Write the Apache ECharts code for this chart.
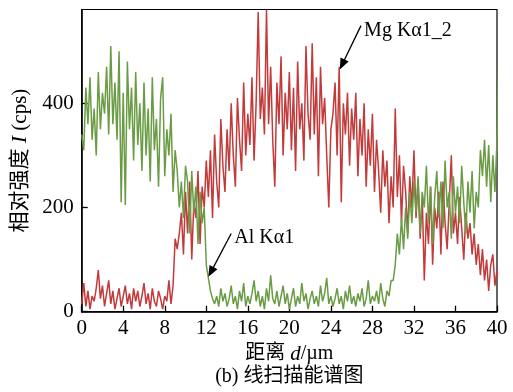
<!DOCTYPE html>
<html>
<head>
<meta charset="utf-8">
<script src="https://cdn.jsdelivr.net/npm/echarts@6/dist/echarts.min.js"></script>
<style>
html,body{margin:0;padding:0;background:#fff;}
#chart{width:513px;height:392px;}
</style>
</head>
<body>
<div id="chart"></div>
<script>
// sampling step along the scan line (µm)
const STEP_UM = 0.2;
const xTicks = [0, 4, 8, 12, 16, 20, 24, 28, 32, 36, 40];
const yTicks = [0, 200, 400];

// Al Kα1 counts (cps), one value per 0.2 µm
const alKa1 = [
  340, 310, 430, 360, 450, 330, 390, 300, 460, 350, 420,
  380, 470, 340, 510, 360, 440, 330, 500, 210, 420,
  205, 480, 350, 430, 290, 460, 320, 400, 270, 440,
  300, 390, 250, 450, 310, 370, 240, 410, 450, 260,
  350, 300, 380, 230, 310, 270, 200, 250, 180, 280,
  250, 150, 270, 190, 240, 130, 230, 170, 200, 90,
  65, 40, 25, 15, 30, 10, 45, 20, 35, 10,
  25, 50, 15, 30, 5, 40, 20, 55, 10, 30,
  15, 35, 60, 20, 40, 10, 30, 5, 45, 20,
  70, 25, 15, 40, 10, 30, 50, 15, 35, 5,
  25, 45, 10, 30, 15, 55, 20, 35, 5, 25,
  40, 15, 30, 10, 50, 20, 35, 65, 15, 30,
  10, 25, 45, 15, 30, 5, 40, 20, 50, 15,
  30, 10, 35, 20, 45, 10, 25, 60, 15, 30,
  20, 40, 15, 55, 25, 10, 40, 30, 60, 60,
  90, 150, 110, 180, 120, 200, 140, 230, 170, 250,
  190, 260, 150, 230, 200, 280, 170, 240, 130, 220,
  270, 180, 250, 160, 290, 200, 230, 140, 260, 190,
  240, 170, 280, 210, 150, 250, 190, 270, 160, 230,
  200, 310, 260, 330, 240, 320, 210, 300, 230, 330,
  510
];

// Mg Kα1_2 counts (cps), one value per 0.2 µm
const mgKa12 = [
  15, 55, 10, 40, 5, 30, 20, 45, 80, 25, 50,
  10, 35, 60, 15, 40, 5, 25, 45, 10, 30,
  50, 15, 35, 5, 45, 20, 40, 10, 30, 55,
  15, 35, 5, 45, 20, 10, 40, 25, 5, 30,
  20, 60, 15, 50, 140, 120, 150, 190, 110, 230,
  150, 250, 100, 210, 180, 270, 130, 240, 200, 290,
  220, 310, 180, 340, 250, 200, 370, 280, 230, 350,
  270, 400, 300, 240, 410, 330, 270, 440, 300, 380,
  320, 450, 290, 400, 575, 370, 430, 340, 580, 360,
  470, 330, 240, 440, 360, 490, 300, 420, 350, 460,
  310, 430, 270, 480, 350, 400, 290, 510, 380, 330,
  515, 340, 450, 260, 470, 360, 410, 300, 200, 350,
  380, 440, 300, 470, 210, 400, 340, 420, 280, 390,
  330, 420, 260, 370, 300, 400, 240, 350, 280, 380,
  230, 330, 270, 190, 310, 240, 290, 170, 260, 200,
  390, 220, 300, 170, 280, 230, 150, 260, 200, 310,
  180, 250, 140, 220, 60, 190, 130, 240, 90, 200,
  160, 230, 110, 250, 170, 120, 210, 300, 150, 190,
  130, 220, 160, 100, 190, 140, 170, 110, 150, 90,
  130, 70, 120, 60, 100, 40, 90, 110, 50, 80,
  60
];

const labelAl = 'Al Kα1';
const labelMg = 'Mg Kα1_2';
// annotation anchors in data coordinates: [text-left, arrow start, arrow tip]
const annMg = { text: [27.2, 540], from: [26.9, 549], to: [24.86, 465] };
const annAl = { text: [14.7, 142], from: [14.4, 150], to: [12.2, 67] };

const FONT = "'Liberation Serif', 'Times New Roman', 'Noto Sans CJK SC', serif";
const GREEN = '#6a9c45';
const RED = '#c23a3a';

function pairs(arr) { return arr.map((v, i) => [Math.round(i * STEP_UM * 10) / 10, v]); }

const chart = echarts.init(document.getElementById('chart'), null, { renderer: 'canvas' });
chart.setOption({
  animation: false,
  backgroundColor: '#fff',
  grid: { left: 81.7, right: 16, top: 9.5, bottom: 80.3, show: true, borderColor: '#000', borderWidth: 1.2, backgroundColor: 'transparent' },
  xAxis: {
    type: 'value', min: 0, max: 40, interval: 4,
    axisLine: { lineStyle: { color: '#000', width: 1.5 } },
    axisTick: { inside: true, length: 6, lineStyle: { color: '#000', width: 1.3 } },
    splitLine: { show: false },
    axisLabel: { color: '#000', fontFamily: FONT, fontSize: 21, margin: 6 },
    name: '距离 {i|d}/µm', nameLocation: 'middle', nameGap: 31,
    nameTextStyle: { color: '#000', fontFamily: FONT, fontSize: 20,
      rich: { i: { fontStyle: 'italic', fontFamily: FONT, fontSize: 21, color: '#000' } } }
  },
  yAxis: {
    type: 'value', min: 0, max: 580, interval: 200,
    axisLine: { show: true, lineStyle: { color: '#000', width: 1.5 } },
    axisTick: { show: true, inside: true, length: 6, lineStyle: { color: '#000', width: 1.3 } },
    splitLine: { show: false },
    axisLabel: { color: '#000', fontFamily: FONT, fontSize: 21, margin: 8, showMaxLabel: false,
      formatter: v => (yTicks.indexOf(v) >= 0 ? String(v) : '') },
    name: '相对强度 {i|I} (cps)', nameLocation: 'middle', nameGap: 47, nameRotate: 90,
    nameTextStyle: { color: '#000', fontFamily: FONT, fontSize: 21,
      rich: { i: { fontStyle: 'italic', fontFamily: FONT, fontSize: 22, color: '#000' } } }
  },
  series: [
    { name: labelMg, type: 'line', data: pairs(mgKa12), showSymbol: false, symbol: 'none',
      lineStyle: { color: RED, width: 1.5 }, z: 2 },
    { name: labelAl, type: 'line', data: pairs(alKa1), showSymbol: false, symbol: 'none',
      lineStyle: { color: GREEN, width: 1.5 }, z: 3 }
  ]
});

function px(p) { return chart.convertToPixel({ gridIndex: 0 }, p); }
function arrow(a) {
  const s = px(a.from), t = px(a.to);
  const dx = t[0] - s[0], dy = t[1] - s[1];
  const L = Math.sqrt(dx * dx + dy * dy), ux = dx / L, uy = dy / L;
  const hl = 11, hw = 4.5;
  const bx = t[0] - ux * hl, by = t[1] - uy * hl;
  return [
    { type: 'line', shape: { x1: s[0], y1: s[1], x2: bx + ux * 2, y2: by + uy * 2 }, style: { stroke: '#000', lineWidth: 1.3 }, z: 10 },
    { type: 'polygon', shape: { points: [[t[0], t[1]], [bx - uy * hw, by + ux * hw], [bx + uy * hw, by - ux * hw]] }, style: { fill: '#000' }, z: 10 }
  ];
}
function label(a, txt) {
  const p = px(a.text);
  return { type: 'text', x: p[0], y: p[1], style: { text: txt, fill: '#000', font: '20px ' + FONT, textAlign: 'left', textVerticalAlign: 'middle' }, z: 10 };
}
const mid = px([20, 0]);
chart.setOption({
  graphic: [].concat(
    arrow(annMg), [label(annMg, labelMg)],
    arrow(annAl), [label(annAl, labelAl)],
    [{ type: 'text', x: mid[0], y: 377, style: { text: '(b) 线扫描能谱图', fill: '#000', font: '20px ' + FONT, textAlign: 'center', textVerticalAlign: 'middle' }, z: 10 }]
  )
});
</script>
</body>
</html>
